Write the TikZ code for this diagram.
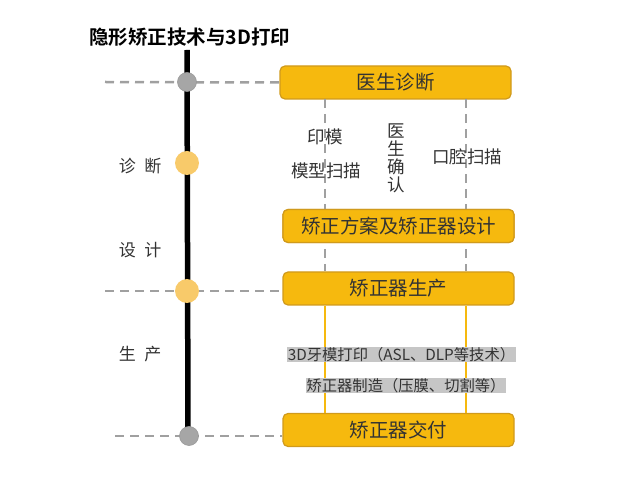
\documentclass[tikz,border=0pt]{standalone}
\usepackage{fontspec}
\setmainfont{Noto Sans CJK SC}
\newfontfamily\cjkbold[BoldFont={* Bold}]{Noto Sans CJK SC}
\definecolor{boxfill}{HTML}{F6B90E}
\definecolor{boxline}{HTML}{D09A1C}
\definecolor{dotyel}{HTML}{F8CA6A}
\definecolor{dotgray}{HTML}{A6A6A6}
\definecolor{dashgray}{HTML}{A0A0A0}
\definecolor{txt}{HTML}{333333}
\definecolor{hl}{HTML}{C6C6C6}
\tikzset{
  x=1pt,y=-1pt,
  stagebox/.style={draw=boxline, line width=1.2pt, fill=boxfill, rounded corners=5pt,
    minimum width=231pt, minimum height=33pt, inner sep=0pt, text=txt,
    font=\fontsize{19.5}{19.5}\selectfont},
  guide/.style={dashgray, line width=2.5pt, dash pattern=on 9pt off 6pt},
  vguide/.style={dashgray, line width=2.5pt, dash pattern=on 9pt off 6pt},
  solidlink/.style={boxfill, line width=2.5pt},
  dotg/.style={circle, fill=dotgray, draw=gray!80, line width=0.6pt, minimum size=19pt, inner sep=0pt},
  doty/.style={circle, fill=dotyel, minimum size=24pt, inner sep=0pt},
  steplabel/.style={text=txt, font=\fontsize{17.5}{20}\selectfont, inner sep=0pt},
  sidelabel/.style={text=txt, font=\fontsize{17}{17}\selectfont, inner sep=0pt},
  hltext/.style={fill=hl, text=txt, font=\fontsize{15.3}{16}\selectfont, inner sep=0.5pt},
}
\begin{document}
\begin{tikzpicture}
\useasboundingbox (0,0) rectangle (630,478);
% title
\node[anchor=west, text=black, inner sep=0pt, font=\cjkbold\bfseries\fontsize{19.5}{20}\selectfont] (title) at (89,37) {隐形矫正技术与3D打印};
% boxes
\node[stagebox] (b1) at (395.5,82.5) {医生诊断};
\node[stagebox] (b2) at (398.5,226) {矫正方案及矫正器设计};
\node[stagebox] (b3) at (398.5,288.5) {矫正器生产};
\node[stagebox] (b4) at (398.5,430) {矫正器交付};
% timeline coordinates
\coordinate (ttop) at (187,50);
\coordinate (tbot) at (188,436);
\coordinate (g1l) at (105,82);
\coordinate (g2l) at (105,291);
\coordinate (g3l) at (115,436);
% vertical guides between boxes
\coordinate (l1) at (325,99);
\coordinate (r1) at (466,99);
\draw[vguide] (l1) -- (l1 |- b3.north);
\draw[vguide] (r1) -- (r1 |- b3.north);
\draw[solidlink] (l1 |- b3.south) -- (l1 |- b4.north);
\draw[solidlink] (r1 |- b3.south) -- (r1 |- b4.north);
% redraw box b2 on top of guides
\node[stagebox] at (b2) {矫正方案及矫正器设计};
% horizontal guides
\draw[guide] (g1l) -- (b1.west);
\draw[guide] (g2l) -- (b3.west |- g2l);
\draw[guide] (g3l) -- (b4.west |- g3l);
% timeline
\draw[black, line width=5.5pt] (ttop) -- (tbot);
\node[dotg] (d1) at (187,82) {};
\node[doty] (d2) at (187,163) {};
\node[doty] (d3) at (187,291) {};
\node[dotg] (d4) at (189,436) {};
% stage labels
\node[sidelabel] (s1) at (140,166) {诊\,\,\,断};
\node[sidelabel] (s2) at (140,250) {设\,\,\,计};
\node[sidelabel] (s3) at (140,354) {生\,\,\,产};
% step texts
\node[steplabel] (t1) at (325,137) {印模};
\node[steplabel] (t2) at (326,171) {模型扫描};
\node[steplabel, align=center, font=\fontsize{17.5}{18}\selectfont] (t3) at (396,158) {医\\生\\确\\认};
\node[steplabel] (t4) at (467,157) {口腔扫描};
% production texts
\node[hltext] (p1) at (401.5,354.5) {3D牙模打印（ASL、DLP等技术）};
\node[hltext] (p2) at (406,385.5) {矫正器制造（压膜、切割等）};
\end{tikzpicture}
\end{document}
